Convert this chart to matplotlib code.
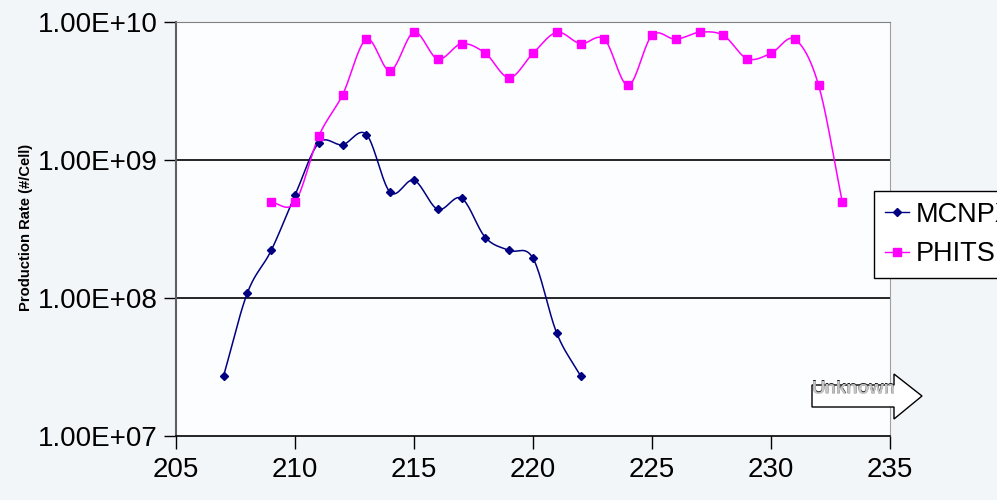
import numpy as np
import matplotlib
matplotlib.use("Agg")
import matplotlib.pyplot as plt
from matplotlib.lines import Line2D
from matplotlib.patches import Polygon

plt.rcParams['font.family'] = ['Liberation Sans', 'DejaVu Sans']

mcnpx_x = [207, 208, 209, 210, 211, 212, 213, 214, 215, 216, 217, 218, 219, 220, 221, 222]
mcnpx_y = [2.73e7, 1.09e8, 2.21e8, 5.55e8, 1.33e9, 1.29e9, 1.53e9, 5.83e8, 7.13e8,
           4.39e8, 5.28e8, 2.74e8, 2.21e8, 1.94e8, 5.55e7, 2.73e7]
phits_x = list(range(209, 234))
phits_y = [4.93e8, 4.93e8, 1.49e9, 2.97e9, 7.49e9, 4.44e9, 8.42e9, 5.39e9, 6.96e9,
           5.93e9, 3.95e9, 5.93e9, 8.42e9, 6.96e9, 7.49e9, 3.48e9, 8.0e9, 7.49e9,
           8.42e9, 8.0e9, 5.42e9, 5.93e9, 7.49e9, 3.48e9, 4.93e8]
x_ticks = [205, 210, 215, 220, 225, 230, 235]
y_ticks = [1e7, 1e8, 1e9, 1e10]
y_labels = ['1.00E+07', '1.00E+08', '1.00E+09', '1.00E+10']


def smooth(x, y, n=20):
    """Catmull-Rom style smoothing in (x, log y) space, like Excel smoothed lines."""
    x = np.asarray(x, float)
    ly = np.log10(np.asarray(y, float))
    P = np.column_stack([x, ly])
    P = np.vstack([P[0] - (P[1] - P[0]), P, P[-1] + (P[-1] - P[-2])])
    out = []
    for i in range(1, len(P) - 2):
        p0, p1, p2, p3 = P[i - 1], P[i], P[i + 1], P[i + 2]
        t = np.linspace(0, 1, n, endpoint=False)[:, None]
        c1 = p1 + (p2 - p0) / 6.0
        c2 = p2 - (p3 - p1) / 6.0
        seg = ((1 - t) ** 3) * p1 + 3 * ((1 - t) ** 2) * t * c1 + 3 * (1 - t) * t ** 2 * c2 + t ** 3 * p2
        out.append(seg)
    out.append(P[-2][None, :])
    S = np.vstack(out)
    return S[:, 0], 10 ** S[:, 1]


W, H = 997, 500
fig = plt.figure(figsize=(W / 100, H / 100), dpi=100, facecolor='#f3f6f9')
ax = fig.add_axes([176 / W, 1 - 436 / H, (890 - 176) / W, (436 - 22) / H])
ax.set_facecolor('#fcfdfe')

mc = '#000080'
ph = '#ff00ff'
sx, sy = smooth(mcnpx_x, mcnpx_y)
ax.plot(sx, sy, color=mc, lw=1.1, zorder=3)
ax.plot(mcnpx_x, mcnpx_y, ls='none', marker='D', ms=4, color=mc, zorder=4)
sx, sy = smooth(phits_x, phits_y)
ax.plot(sx, sy, color=ph, lw=1.1, zorder=3)
ax.plot(phits_x, phits_y, ls='none', marker='s', ms=5.5, color=ph, zorder=4)

ax.set_yscale('log')
ax.set_xlim(205, 235)
ax.set_ylim(1e7, 1e10)
ax.set_xticks(x_ticks)
ax.set_xticklabels([str(v) for v in x_ticks])
ax.set_yticks(y_ticks)
ax.set_yticklabels(y_labels)
ax.yaxis.set_minor_locator(matplotlib.ticker.NullLocator())
ax.tick_params(axis='both', labelsize=20, direction='out', length=9, width=1, color='black')
ax.tick_params(axis='x', pad=6)
ax.tick_params(axis='y', pad=4)
for yv in [1e8, 1e9]:
    ax.axhline(yv, color='black', lw=1.2, zorder=2)
ax.spines['top'].set_color('#808080')
ax.spines['right'].set_color('#a0a0a0')
ax.spines['left'].set_color('#606060')
ax.spines['left'].set_linewidth(1.5)
ax.spines['bottom'].set_color('black')
ax.spines['bottom'].set_linewidth(1.2)

fig.text(26 / W, 1 - 227 / H, 'Production Rate (#/Cell)', rotation=90, fontsize=10.6,
         fontweight='bold', ha='center', va='center')

handles = [Line2D([0], [0], color=mc, marker='D', ms=4, lw=1),
           Line2D([0], [0], color=ph, marker='s', ms=5.5, lw=1)]
leg = fig.legend(handles, ['MCNPX', 'PHITS'], loc='upper left',
                 bbox_to_anchor=(874 / W, 1 - 191 / H), fontsize=19.5,
                 frameon=True, fancybox=False, edgecolor='black', facecolor='white',
                 framealpha=1, handlelength=0.9, handletextpad=0.25, borderpad=0.4,
                 labelspacing=0.5, borderaxespad=0)
leg.get_frame().set_linewidth(1.0)

pts = [(812, 385), (894, 385), (894, 374), (922, 396), (894, 419), (894, 407), (812, 407)]
poly = Polygon([(px / W, 1 - py / H) for px, py in pts], closed=True, transform=fig.transFigure,
               facecolor='white', edgecolor='black', lw=1.0, zorder=5)
fig.patches.append(poly)
fig.text(812 / W, 1 - 388.5 / H, 'Unknown', fontsize=13.5, color='#202020', fontweight='bold',
         ha='left', va='center', zorder=6)
fig.text(812 / W, 1 - 389.5 / H, 'Unknown', fontsize=13.5, color='#c4c4c4', fontweight='bold',
         ha='left', va='center', zorder=7)

fig.savefig('out.png', dpi=100, facecolor=fig.get_facecolor())
